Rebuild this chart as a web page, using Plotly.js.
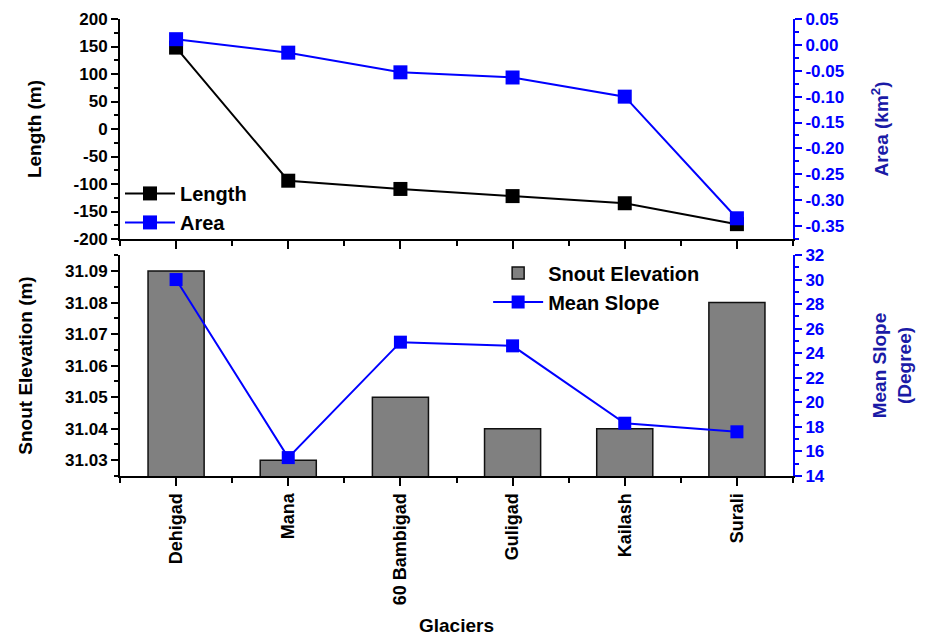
<!DOCTYPE html>
<html>
<head>
<meta charset="utf-8">
<script src="https://cdn.plot.ly/plotly-3.0.1.min.js"></script>
<style>html,body{margin:0;padding:0;background:#fff;}#chart{width:928px;height:642px;}</style>
</head>
<body>
<div id="chart"></div>
<script>
const glaciers = ["Dehigad", "Mana", "60 Bambigad", "Guligad", "Kailash", "Surali"];
const lengthM = [148, -94, -109, -122, -135, -173];
const areaKm2 = [0.011, -0.015, -0.053, -0.063, -0.100, -0.335];
const snoutElevation = [31.09, 31.03, 31.05, 31.04, 31.04, 31.08];
const meanSlope = [30.0, 15.5, 24.9, 24.6, 18.3, 17.6];

const lengthTickVals = [200, 150, 100, 50, 0, -50, -100, -150, -200];
const lengthTickText = ["200", "150", "100", "50", "0", "-50", "-100", "-150", "-200"];
const areaTickVals = [0.05, 0.00, -0.05, -0.10, -0.15, -0.20, -0.25, -0.30, -0.35];
const areaTickText = ["0.05", "0.00", "-0.05", "-0.10", "-0.15", "-0.20", "-0.25", "-0.30", "-0.35"];

const xIdx = glaciers.map((_, i) => i);
const xMinor = [-0.5, 0.5, 1.5, 2.5, 3.5, 4.5, 5.5];
const FONT = "Liberation Sans, Arial, sans-serif";
const BLUE = "#0000ff";
const NAVY = "#1a1aa6";

const traces = [
  {x: xIdx, y: lengthM, name: "Length", type: "scatter", mode: "lines+markers",
   xaxis: "x", yaxis: "y", line: {color: "#000", width: 2},
   marker: {symbol: "square", size: 14, color: "#000"}, legend: "legend"},
  {x: xIdx, y: areaKm2, name: "Area", type: "scatter", mode: "lines+markers",
   xaxis: "x", yaxis: "y2", line: {color: BLUE, width: 2},
   marker: {symbol: "square", size: 14, color: BLUE}, legend: "legend"},
  {x: xIdx, y: snoutElevation, name: "Snout Elevation", type: "bar", width: 0.5,
   xaxis: "x2", yaxis: "y3", marker: {color: "#808080", line: {color: "#111", width: 1.5}},
   legend: "legend2"},
  {x: xIdx, y: meanSlope, name: "Mean Slope", type: "scatter", mode: "lines+markers",
   xaxis: "x2", yaxis: "y4", line: {color: BLUE, width: 2},
   marker: {symbol: "square", size: 13, color: BLUE}, legend: "legend2"}
];

const tickFont = {family: FONT, size: 17, color: "#000", weight: "bold"};
const xTickFont = {family: FONT, size: 18, color: "#000", weight: "bold"};
const blueTickFont = {family: FONT, size: 17, color: BLUE, weight: "bold"};
const titleFont = {family: FONT, size: 19, color: "#000", weight: "bold"};
const navyTitleFont = {family: FONT, size: 19, color: NAVY, weight: "bold"};
const legendFont = {family: FONT, size: 20, color: "#000", weight: "bold"};

const xBase = {
  range: [-0.5, 5.5], showgrid: false, zeroline: false, showline: true,
  linecolor: "#000", linewidth: 2, tickcolor: "#000", tickwidth: 2,
  fixedrange: true, tickmode: "array", tickvals: xIdx, ticklen: 8
};

const layout = {
  width: 928, height: 642,
  margin: {l: 120, r: 135, t: 19, b: 166},
  paper_bgcolor: "#fff", plot_bgcolor: "#fff",
  showlegend: true,
  xaxis: Object.assign({}, xBase, {
    domain: [0, 1], anchor: "y", ticks: "outside", showticklabels: false,
    minor: {tickmode: "array", tickvals: xMinor, ticklen: 5, tickcolor: "#000", tickwidth: 2, ticks: "outside"}
  }),
  xaxis3: Object.assign({}, xBase, {
    overlaying: "x", side: "top", anchor: "y", ticks: "inside", showticklabels: false,
    minor: {tickmode: "array", tickvals: xMinor, ticklen: 5, tickcolor: "#000", tickwidth: 2, ticks: "inside"}
  }),
  xaxis2: Object.assign({}, xBase, {
    domain: [0, 1], anchor: "y3", ticks: "outside",
    ticktext: glaciers, tickangle: -90, tickfont: xTickFont,
    minor: {tickmode: "array", tickvals: xMinor, ticklen: 5, tickcolor: "#000", tickwidth: 2, ticks: "outside"},
    title: {text: "Glaciers", font: titleFont, standoff: 14}
  }),
  xaxis4: Object.assign({}, xBase, {
    overlaying: "x2", side: "top", anchor: "y3", ticks: "inside", showticklabels: false,
    minor: {tickmode: "array", tickvals: xMinor, ticklen: 5, tickcolor: "#000", tickwidth: 2, ticks: "inside"}
  }),
  yaxis: {
    domain: [0.5186, 1], anchor: "x", range: [-200, 200],
    tickmode: "array", tickvals: lengthTickVals, ticktext: lengthTickText,
    showgrid: false, zeroline: false, showline: true, linecolor: "#000", linewidth: 2,
    ticks: "outside", ticklen: 7, tickwidth: 2, tickcolor: "#000", tickfont: tickFont,
    minor: {tickmode: "linear", tick0: 0, dtick: 25, ticklen: 4, tickwidth: 2, tickcolor: "#000", ticks: "outside"},
    title: {text: "Length (m)", font: titleFont, standoff: 27}, fixedrange: true
  },
  yaxis2: {
    overlaying: "y", side: "right", anchor: "x", range: [-0.375, 0.05],
    tickmode: "array", tickvals: areaTickVals, ticktext: areaTickText,
    showgrid: false, zeroline: false, showline: true, linecolor: BLUE, linewidth: 2,
    ticks: "outside", ticklen: 7, tickwidth: 2, tickcolor: BLUE, tickfont: blueTickFont,
    minor: {tickmode: "linear", tick0: 0, dtick: 0.025, ticklen: 4, tickwidth: 2, tickcolor: BLUE, ticks: "outside"},
    title: {text: "Area (km<sup>2</sup>)", font: navyTitleFont, standoff: 32}, fixedrange: true
  },
  yaxis3: {
    domain: [0, 0.4836], anchor: "x2", range: [31.025, 31.0951], dtick: 0.01, tick0: 31.03,
    tickformat: ".2f",
    showgrid: false, zeroline: false, showline: true, linecolor: "#000", linewidth: 2,
    ticks: "outside", ticklen: 7, tickwidth: 2, tickcolor: "#000", tickfont: tickFont,
    minor: {dtick: 0.005, ticklen: 4, tickwidth: 2, tickcolor: "#000", ticks: "outside"},
    title: {text: "Snout Elevation (m)", font: titleFont, standoff: 27}, fixedrange: true
  },
  yaxis4: {
    overlaying: "y3", side: "right", anchor: "x2", range: [14, 32], dtick: 2,
    showgrid: false, zeroline: false, showline: true, linecolor: BLUE, linewidth: 2,
    ticks: "outside", ticklen: 7, tickwidth: 2, tickcolor: BLUE, tickfont: blueTickFont,
    minor: {dtick: 1, ticklen: 4, tickwidth: 2, tickcolor: BLUE, ticks: "outside"},
    title: {text: "Mean Slope<br>(Degree)", font: navyTitleFont, standoff: 49}, fixedrange: true
  },
  legend: {
    x: 0.0, y: 0.661, xanchor: "left", yanchor: "top", bgcolor: "rgba(0,0,0,0)",
    font: legendFont, tracegroupgap: 0, itemwidth: 50
  },
  legend2: {
    x: 0.547, y: 0.487, xanchor: "left", yanchor: "top", bgcolor: "rgba(0,0,0,0)",
    font: legendFont, tracegroupgap: 0, itemwidth: 50
  }
};

Plotly.newPlot("chart", traces, layout, {displayModeBar: false, staticPlot: true});
</script>
</body>
</html>
